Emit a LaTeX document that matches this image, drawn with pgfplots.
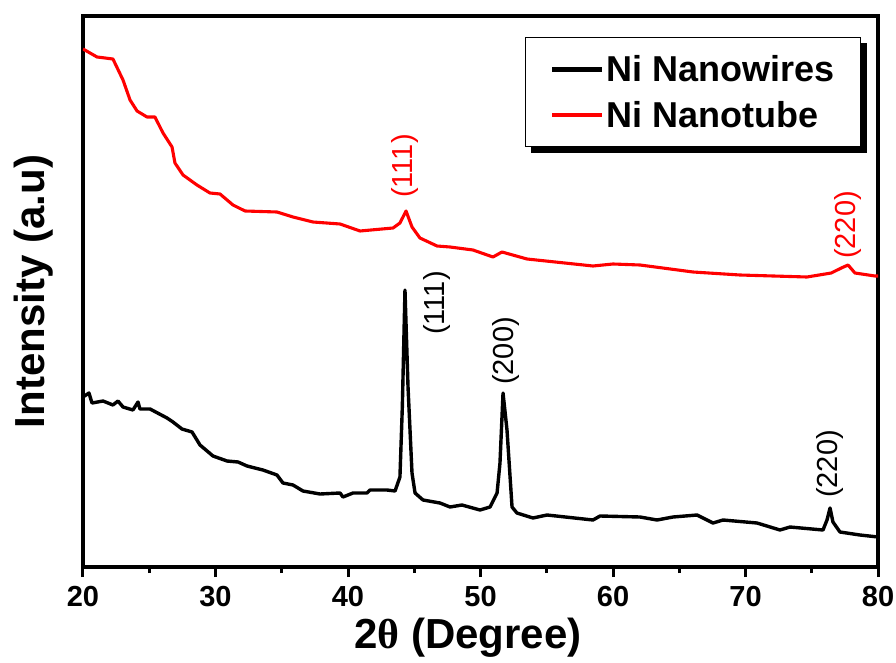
\documentclass[border=0pt]{standalone}
\usepackage{fontspec}
\setmainfont{Liberation Sans}
\newfontfamily\serifgreek{Liberation Serif}
\usepackage{pgfplots}
\pgfplotsset{compat=1.18}
\usetikzlibrary{calc,backgrounds}

% spectra; y in plot units (0 = bottom frame)
\pgfplotstableread{
x y
20.00 170
20.45 174
20.68 164
21.51 166
22.26 162
22.64 166
23.02 160
23.77 157
24.15 165
24.30 158
25.06 158
26.34 149
26.79 145
27.47 138
28.23 135
28.83 122
29.81 111
30.87 106
31.70 105
32.38 101
33.58 97
34.64 92
35.09 84
35.85 82
36.60 76
37.89 73
39.40 74
39.62 70
40.38 74
41.43 74
41.66 77
42.94 77
43.55 76
43.92 90
44.10 160
44.30 277
44.53 180
44.83 94
45.06 74
45.66 67
46.94 64
47.70 60
48.60 62
49.96 57
50.72 60
51.25 74
51.47 104
51.70 174
52.00 137
52.38 60
52.75 54
53.96 49
55.02 52
58.49 47
59.02 51
62.04 50
63.32 47
64.53 50
66.34 52
67.55 44
68.30 47
70.87 44
72.60 37
73.36 40
75.85 37
76.15 47
76.38 59
76.60 45
77.13 35
78.64 32
80.00 30
}\wires

\pgfplotstableread{
x y
20.00 518
21.06 510
22.26 508
23.02 487
23.55 467
24.08 456
24.83 450
25.43 450
26.04 434
26.72 420
26.94 404
27.55 392
28.60 382
29.58 374
30.34 373
31.32 362
32.23 356
34.64 355
35.85 350
37.36 345
39.40 343
40.91 336
43.40 339
43.92 344
44.38 356
44.83 340
45.43 329
46.72 321
47.70 320
49.43 317
50.94 310
51.62 315
53.51 308
58.49 301
60.00 303
62.04 302
66.04 295
69.58 292
74.64 290
76.47 294
77.23 299
77.74 302
78.26 294
79.77 291
80.00 291
}\tube

\begin{document}
\begin{tikzpicture}
\begin{axis}[
  name=ax,
  scale only axis,
  width=795pt, height=551pt,
  xmin=20, xmax=80, ymin=0, ymax=551,
  axis line style={line width=3.5pt},
  xtick={20,30,...,80},
  minor x tick num=1,
  xtick pos=bottom,
  tick align=outside,
  ytick=\empty,
  major tick length=10pt,
  minor tick length=6pt,
  every tick/.style={black, line width=3pt},
  /pgf/number format/assume math mode=true,
  xticklabel style={font=\fontsize{29}{29}\selectfont\bfseries, yshift=-6pt},
  xlabel={2{\serifgreek θ} (Degree)},
  ylabel={Intensity (a.u)},
  xlabel style={font=\fontsize{42}{42}\selectfont\bfseries, at={(axis description cs:0.484,-0.128)}, anchor=center},
  ylabel style={font=\fontsize{42}{42}\selectfont\bfseries, at={(axis description cs:-0.062,0.5)}, anchor=center},
  legend style={name=leg, at={(axis description cs:0.9786,0.9619)}, anchor=north east,
    draw=black, line width=1pt, fill=white,
    font=\fontsize{36}{36}\selectfont\bfseries,
    inner xsep=24pt, inner ysep=16pt, row sep=14pt},
  legend cell align=left,
  legend image code/.code={\draw[#1, line width=4.5pt] (0pt,0pt) -- (50pt,0pt);},
]
\addplot[black, line width=3.4pt, line join=round] table {\wires};
\addlegendentry{Ni Nanowires}
\addplot[red, line width=3.1pt, line join=round] table {\tube};
\addlegendentry{Ni Nanotube}

\node[red, rotate=90, font=\fontsize{29}{29}\selectfont] at (axis cs:44.30,401) {(111)};
\node[red, rotate=90, font=\fontsize{29}{29}\selectfont] at (axis cs:77.74,342) {(220)};
\node[black, rotate=90, font=\fontsize{29}{29}\selectfont] at (axis cs:46.72,264) {(111)};
\node[black, rotate=90, font=\fontsize{29}{29}\selectfont] at (axis cs:51.92,216) {(200)};
\node[black, rotate=90, font=\fontsize{29}{29}\selectfont] at (axis cs:76.38,103) {(220)};
\end{axis}
\begin{scope}[on background layer]
\fill[black] ($(leg.south west)+(6pt,-6pt)$) rectangle ($(leg.north east)+(6pt,-6pt)$);
\end{scope}
\pgfresetboundingbox
\path ($(ax.south west)+(-83pt,-95pt)$) rectangle ($(ax.north east)+(18pt,16pt)$);
\end{tikzpicture}
\end{document}
